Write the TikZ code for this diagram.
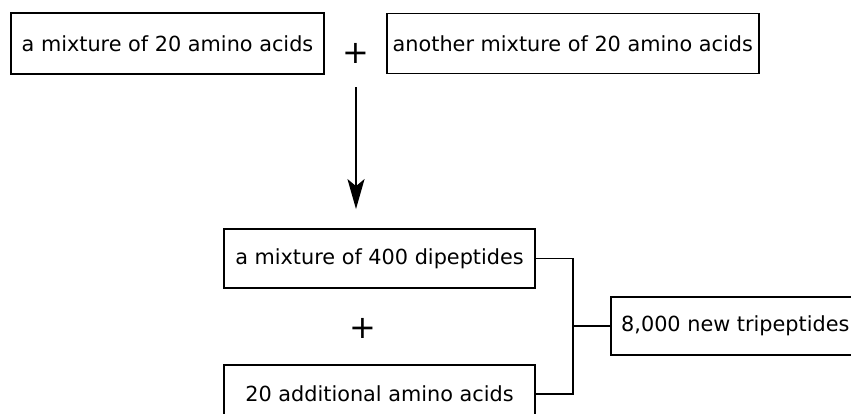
\documentclass[tikz,border=0pt]{standalone}
\usepackage{fontspec}
\setmainfont{DejaVu Sans}
\usetikzlibrary{arrows.meta,calc,positioning}

\tikzset{
  stepbox/.style={draw,line width=1.8pt,inner sep=0pt,align=center,
    font=\fontsize{20.8}{24}\selectfont},
  plussign/.style={inner sep=0pt,font=\fontsize{32}{36}\selectfont},
  link/.style={line width=1.6pt}
}

\begin{document}
\begin{tikzpicture}[x=1pt,y=-1pt,>={Stealth[length=30pt,width=17pt,inset=7pt]}]
  \useasboundingbox (0,0) rectangle (851,414);
  % starting mixtures
  \node[stepbox,minimum width=313pt,minimum height=61pt] (mixA) at (167.5,43.5) {a mixture of 20 amino acids};
  \node[stepbox,minimum width=372pt,minimum height=60pt,right=61pt of mixA] (mixB) {another mixture of 20 amino acids};
  \node[plussign] (plusA) at (356,53) {+};
  % dipeptides plus extra amino acids
  \node[stepbox,minimum width=311pt,minimum height=59pt] (dipep) at (379.5,258.5) {a mixture of 400 dipeptides};
  \node[stepbox,minimum width=311pt,minimum height=58pt,below=75pt of dipep] (extra) {20 additional amino acids};
  \node[plussign] (plusB) at (363,328) {+};
  % result
  \coordinate (fork) at ($(dipep.east)!0.5!(extra.east)+(37,0)$);
  \node[stepbox,minimum width=249pt,minimum height=58pt,right=37pt of fork] (tri) {8,000 new tripeptides};
  \draw[->,line width=1.8pt,shorten <=24pt,shorten >=19pt] (plusA.south) -- (plusA.south |- dipep.north);
  \draw[link] (dipep.east) -| (fork) |- (extra.east);
  \draw[link] (fork) -- (tri.west);
\end{tikzpicture}
\end{document}
